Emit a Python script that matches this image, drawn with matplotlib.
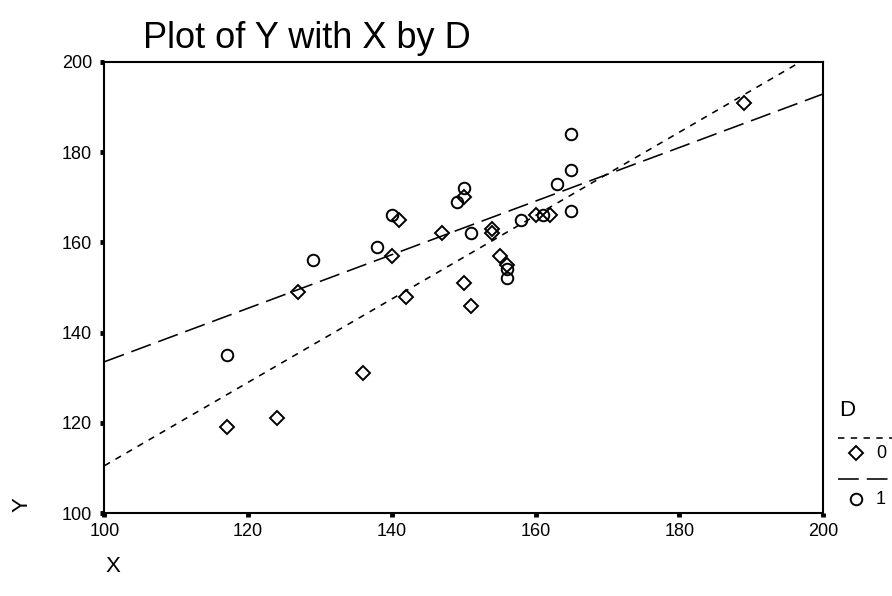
import matplotlib.pyplot as plt
import numpy as np
from matplotlib.lines import Line2D

# D = 0 (diamonds)
x_d0 = [117, 124, 136, 127, 140, 141, 142, 147, 150, 150, 151, 154, 154, 155, 156, 160, 162, 189]
y_d0 = [119, 121, 131, 149, 157, 165, 148, 162, 170, 151, 146, 162, 163, 157, 155, 166, 166, 191]

# D = 1 (circles)
x_d1 = [117, 129, 138, 140, 149, 150, 151, 156, 156, 158, 161, 165, 163, 165, 165]
y_d1 = [135, 156, 159, 166, 169, 172, 162, 154, 152, 165, 166, 167, 173, 176, 184]

x_ticks = [100, 120, 140, 160, 180, 200]
y_ticks = [100, 120, 140, 160, 180, 200]

plt.rcParams["font.family"] = ["Liberation Sans", "DejaVu Sans"]

W, H = 892, 596
SHORT_DASH = (4, 4)
LONG_DASH = (13, 5)
DIAMOND = dict(marker="D", markersize=6.8, markerfacecolor="none",
               markeredgecolor="black", markeredgewidth=1.4)
CIRCLE = dict(marker="o", markersize=8.3, markerfacecolor="none",
              markeredgecolor="black", markeredgewidth=1.4)


def fx(px):
    return px / W


def fy(py):
    return 1 - py / H


fig = plt.figure(figsize=(W / 100, H / 100), dpi=100)
ax = fig.add_axes([fx(104.4), fy(513), (823 - 104.4) / W, (513 - 62) / H])

# regression lines per group
line_x = np.array([100.0, 200.0])
for xs, ys, dashes in ((x_d0, y_d0, SHORT_DASH), (x_d1, y_d1, LONG_DASH)):
    slope, intercept = np.polyfit(xs, ys, 1)
    ax.plot(line_x, slope * line_x + intercept, color="black", linewidth=1.15,
            dashes=dashes, zorder=2)

ax.plot(x_d0, y_d0, linestyle="none", zorder=3, **DIAMOND)
ax.plot(x_d1, y_d1, linestyle="none", zorder=3, **CIRCLE)

ax.set_xlim(100, 200)
ax.set_ylim(100, 200)
ax.set_xticks(x_ticks)
ax.set_yticks(y_ticks)
ax.tick_params(direction="out", length=3, width=3.5, labelsize=13, pad=4)
ax.tick_params(axis="y", pad=6)
for spine in ax.spines.values():
    spine.set_linewidth(1.5)

fig.text(fx(143), fy(38), "Plot of Y with X by D", fontsize=26, va="center", ha="left")
fig.text(fx(22), fy(505), "Y", fontsize=16, rotation=90, va="center", ha="center")
fig.text(fx(113), fy(567), "X", fontsize=16, va="center", ha="center")

# legend, partly cut off by the right edge
fig.text(fx(839), fy(411), "D", fontsize=16, va="center", ha="left")
fig.add_artist(Line2D([fx(838), fx(895)], [fy(437.5)] * 2, transform=fig.transFigure,
                      color="black", linewidth=1.15, dashes=SHORT_DASH))
fig.add_artist(Line2D([fx(856)], [fy(452.5)], transform=fig.transFigure, **DIAMOND))
fig.text(fx(876), fy(453), "0", fontsize=13, va="center", ha="left")
fig.add_artist(Line2D([fx(838), fx(895)], [fy(479)] * 2, transform=fig.transFigure,
                      color="black", linewidth=1.15, dashes=LONG_DASH))
fig.add_artist(Line2D([fx(856)], [fy(499)], transform=fig.transFigure, **CIRCLE))
fig.text(fx(876), fy(500), "1", fontsize=13, va="center", ha="left")

fig.savefig("out.png", dpi=100)
plt.close(fig)
